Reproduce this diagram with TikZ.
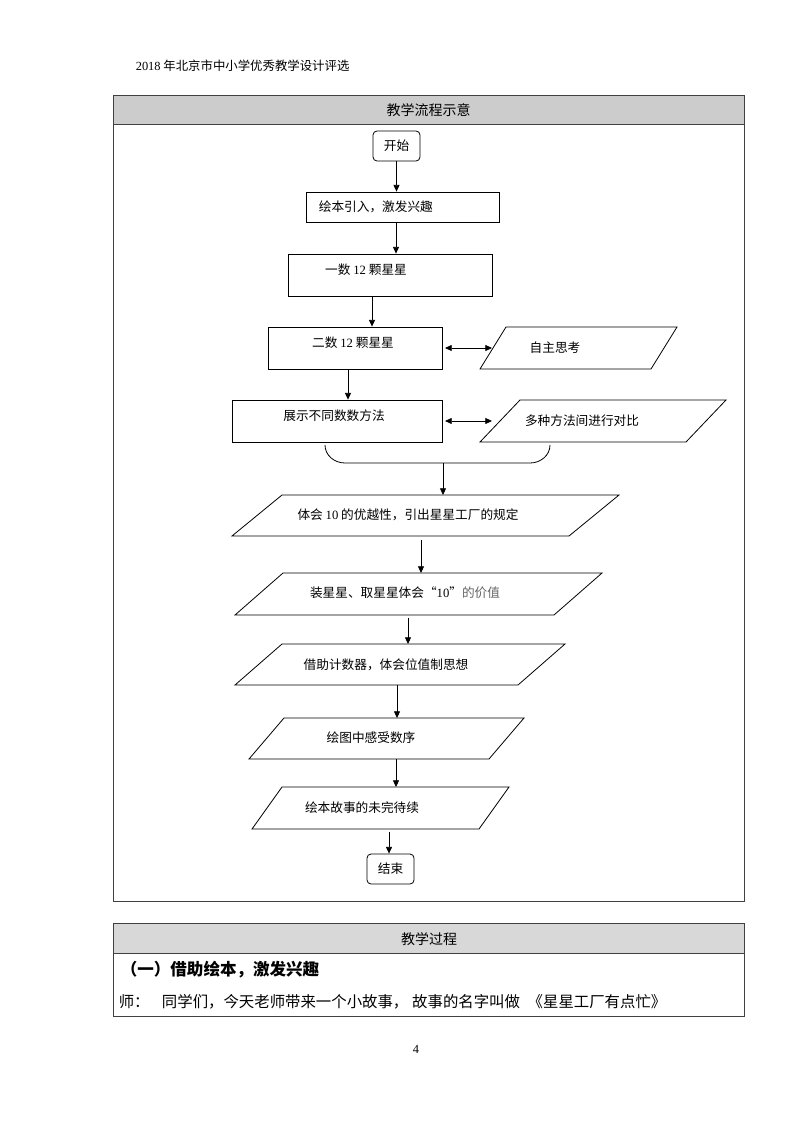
\documentclass[tikz,border=0pt]{standalone}
\usepackage{fontspec}
\setmainfont{Noto Sans CJK SC}
\newfontfamily\tnr{Liberation Serif}
\usepackage{xcolor}
\usepackage{tikz}
\usetikzlibrary{shapes, arrows.meta, positioning, calc}
\definecolor{headgray}{RGB}{204, 204, 204}
\definecolor{headgrayb}{RGB}{216, 216, 216}
\definecolor{framegray}{RGB}{64, 64, 64}
\definecolor{softgray}{RGB}{100, 100, 100}

\begin{document}
\begin{tikzpicture}[x=0.75pt, y=-0.75pt, line width=0.6pt,
    stepbox/.style={draw, rectangle, minimum height=31.5pt, inner sep=0pt},
    iobox/.style={rectangle, minimum height=31.5pt, inner sep=0pt, outer sep=0pt},
    endbox/.style={draw, rounded corners=3pt, minimum width=35.25pt, minimum height=22.5pt, inner sep=0pt},
    arr/.style={-{Triangle[length=5pt, width=4.5pt]}},
    dblarr/.style={{Triangle[length=5pt, width=4.5pt]}-{Triangle[length=5pt, width=4.5pt]}},
    txt/.style={font=\fontsize{9.5}{12}\selectfont}]
    \useasboundingbox (0,0) rectangle (794,1123);

    % Page header
    \node[anchor=west, font=\fontsize{9.3}{11}\selectfont] (pagehead) at (131,66) {{\tnr 2018} 年北京市中小学优秀教学设计评选};

    % Flow table
    \draw[framegray, fill=headgray] (113,95) rectangle (744,124);
    \draw[framegray] (113,124) rectangle (744,901);
    \node[font=\fontsize{10.5}{12}\selectfont] (flowtitle) at (428.5,110) {教学流程示意};

    % Steps
    \node[endbox] (start) at (396.5,146) {};
    \node[txt] (starttxt) at (396.5,146) {开始};
    \node[stepbox, minimum width=144.75pt, minimum height=22.5pt] (intro) at (402.5,207) {};
    \node[txt, anchor=west] (introtxt) at (314,207) {绘本引入，激发兴趣};
    \node[stepbox, minimum width=153pt] (countone) at (390,275) {};
    \node[txt] (countonetxt) at (366,270) {一数 {\tnr 12} 颗星星};
    \node[stepbox, minimum width=130.5pt] (counttwo) at (355,348) {};
    \node[txt] (counttwotxt) at (353,343) {二数 {\tnr 12} 颗星星};
    \node[stepbox, minimum width=157.5pt] (methods) at (337,421) {};
    \node[txt] (methodstxt) at (334,416) {展示不同数数方法};

    % Side boxes
    \node[iobox, minimum width=147.75pt] (think) at (578.5,348) {};
    \node[txt] (thinktxt) at (555,348) {自主思考};
    \node[iobox, minimum width=184.5pt] (compare) at (603,421) {};
    \node[txt] (comparetxt) at (582,421) {多种方法间进行对比};

    % Lower steps
    \node[iobox, minimum width=290.25pt, minimum height=30.75pt] (ten) at (425.5,515.5) {};
    \node[txt] (tentxt) at (408,515) {体会 {\tnr 10} 的优越性，引出星星工厂的规定};
    \node[iobox, minimum width=275.25pt] (pack) at (418.5,594) {};
    \node[txt] (packtxt) at (405,593) {装星星、取星星体会“{\tnr 10}”\textcolor{softgray}{的价值}};
    \node[iobox, minimum width=247.5pt, minimum height=30.75pt] (abacus) at (400,664.5) {};
    \node[txt] (abacustxt) at (386,665) {借助计数器，体会位值制思想};
    \node[iobox, minimum width=206.25pt, minimum height=30.75pt] (order) at (386.5,738.5) {};
    \node[txt] (ordertxt) at (371,738) {绘图中感受数序};
    \node[iobox, minimum width=192.75pt] (story) at (380.5,808) {};
    \node[txt] (storytxt) at (362,808) {绘本故事的未完待续};
    \node[endbox] (finish) at (390.5,869) {};
    \node[txt] (finishtxt) at (390.5,869) {结束};

    % Parallelogram outlines
    \foreach \n/\s in {think/26, compare/40, ten/50, pack/48, abacus/47, order/35, story/30}
        \draw (\n.south west) -- ($(\n.north west)+(\s,0)$) -- (\n.north east)
            -- ($(\n.south east)-(\s,0)$) -- cycle;

    % Arrows
    \draw[arr] (start.south) -- (start.south |- intro.north);
    \draw[arr] (intro.south -| 396,0) -- (countone.north -| 396,0);
    \draw[arr] (countone.south -| 372,0) -- (counttwo.north -| 372,0);
    \draw[arr] (counttwo.south -| 348,0) -- (methods.north -| 348,0);
    \draw[dblarr, shorten <=2pt, shorten >=-9pt] (counttwo.east) -- (think.west);
    \draw[dblarr, shorten <=2pt, shorten >=-9pt] (methods.east) -- (compare.west);

    % Brace
    \draw (325,445) to[out=-90, in=180] (345,463) -- (530,463) to[out=0, in=-90] (550,445);
    \coordinate (bracetip) at (443,463);
    \draw[arr] (bracetip) -- (bracetip |- ten.north);

    \draw[arr, shorten <=3pt] (ten.south -| 421,0) -- (pack.north -| 421,0);
    \draw[arr, shorten <=2pt] (pack.south -| 408,0) -- (abacus.north -| 408,0);
    \draw[arr] (abacus.south -| 397,0) -- (order.north -| 397,0);
    \draw[arr] (order.south -| 396,0) -- (story.north -| 396,0);
    \draw[arr, shorten <=2pt] (story.south -| 389,0) -- (finish.north -| 389,0);

    % Process table
    \draw[framegray, fill=headgrayb] (113,923) rectangle (744,953);
    \draw[framegray] (113,953) rectangle (744,1016);
    \node[font=\fontsize{10.5}{12}\selectfont] (proctitle) at (429,939) {教学过程};
    \node[anchor=west, font=\fontsize{12.4}{14}\selectfont\bfseries] (section) at (116,970) {（一）借助绘本，激发兴趣};
    \node[anchor=west, font=\fontsize{11.55}{13}\selectfont] (speech) at (114,1002) {师：\hspace{0.8em}同学们，今天老师带来一个小故事，\hspace{0.25em}故事的名字叫做\hspace{0.5em}《星星工厂有点忙》};

    % Page number
    \node[font=\tnr\fontsize{9.3}{11}\selectfont] (pagenum) at (416,1049) {4};
\end{tikzpicture}
\end{document}
